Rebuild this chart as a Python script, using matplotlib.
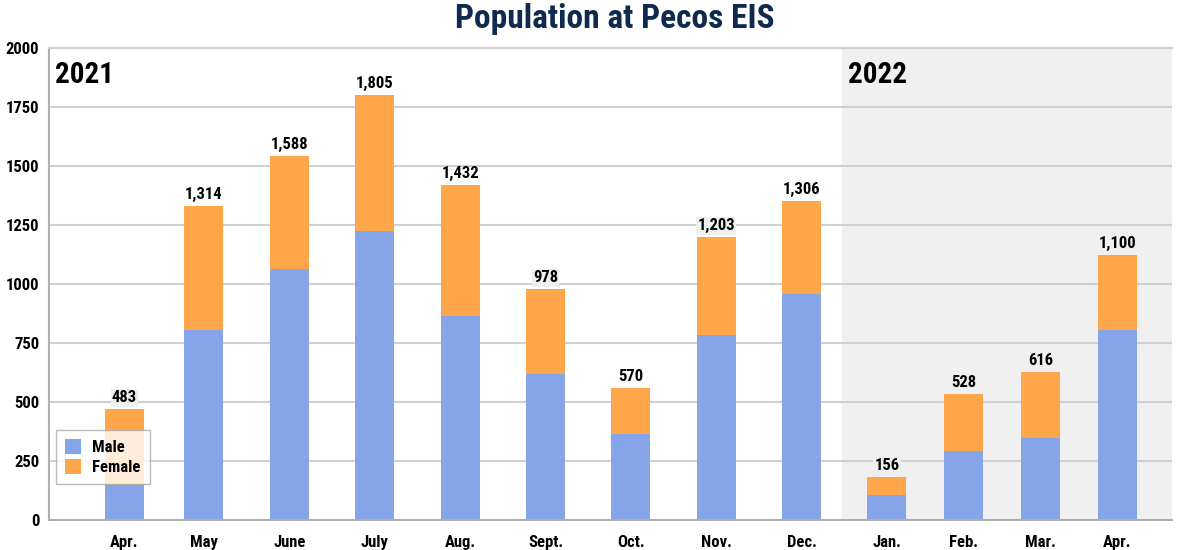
import matplotlib
matplotlib.use("Agg")
import matplotlib.pyplot as plt
from matplotlib import font_manager

months = ["Apr.", "May", "June", "July", "Aug.", "Sept.", "Oct.", "Nov.", "Dec.",
          "Jan.", "Feb.", "Mar.", "Apr."]
male = [150, 805, 1064, 1225, 864, 619, 364, 784, 958, 106, 292, 347, 805]
female = [320, 526, 478, 576, 555, 360, 195, 415, 394, 76, 242, 280, 318]
totals = ["483", "1,314", "1,588", "1,805", "1,432", "978", "570", "1,203", "1,306",
          "156", "528", "616", "1,100"]
years = ["2021", "2022"]
n_2021 = 9

# pick a condensed font if one is installed
names = {f.name for f in font_manager.fontManager.ttflist}
font = "DejaVu Sans"
for cand in ["Roboto Condensed", "Liberation Sans Narrow", "Open Sans Condensed"]:
    if cand in names:
        font = cand
        break
stretch = "normal" if font != "DejaVu Sans" else "condensed"
plt.rcParams["font.family"] = [font, "DejaVu Sans"]
plt.rcParams["font.stretch"] = stretch
plt.rcParams["font.weight"] = "bold"

fig = plt.figure(figsize=(11.78, 5.5), dpi=100)
ax = fig.add_axes([0.0416, 0.0545, 0.9534, 0.8582])

# 2021 bars a bit wider apart than the 2022 ones
x = [i + 0.07 * (i == 0) for i in range(n_2021)]
x += [n_2021 + 0.9 * j for j in range(len(months) - n_2021)]
ax.set_xlim(-0.815, 12.34)
ax.set_ylim(0, 2000)

# shaded 2022 region
ax.axvspan(n_2021 - 0.53, 12.34, color="#f0f0f0", zorder=0, lw=0)

ax.set_yticks(range(0, 2001, 250))
ax.grid(axis="y", color="#d0d0d0", lw=1.5, zorder=1)
ax.set_axisbelow(True)

ax.bar(x, male, width=0.457, color="#86a4ea", label="Male", zorder=2)
ax.bar(x, female, width=0.457, bottom=male, color="#ffa54a", label="Female", zorder=2)

for i, lab in enumerate(totals):
    top = male[i] + female[i]
    near = any(0 < t - top < 70 for t in range(250, 2001, 250))
    bbox = dict(facecolor="#efefef", edgecolor="none", pad=1) if near else None
    ax.text(x[i], top + 16, lab, ha="center", va="bottom", fontsize=12,
            fontweight="bold", bbox=bbox, zorder=3)

ax.text(-0.745, 1885, years[0], ha="left", va="center", fontsize=21, fontweight="bold")
ax.text(n_2021 - 0.46, 1885, years[1], ha="left", va="center", fontsize=21,
        fontweight="bold")

ax.set_xticks(x)
ax.set_xticklabels(months, fontsize=12, fontweight="bold")
ax.tick_params(axis="x", length=0, pad=11)
ax.tick_params(axis="y", length=0, pad=7, labelsize=12)
for t in ax.get_yticklabels():
    t.set_fontweight("bold")

ax.spines["right"].set_visible(False)
for s in ["left", "bottom", "top"]:
    ax.spines[s].set_color("#b0b0b0")
    ax.spines[s].set_linewidth(1.5)
ax.spines["top"].set_color("#d0d0d0")

leg = ax.legend(loc="lower left", bbox_to_anchor=(-0.001, 0.058), fontsize=12,
                frameon=True, fancybox=False, handlelength=0.95, handleheight=0.95,
                handletextpad=0.65, borderpad=0.55, labelspacing=0.25)
leg.get_frame().set_edgecolor("#aaaaaa")
leg.get_frame().set_alpha(0.8)
for t in leg.get_texts():
    t.set_fontweight("bold")

fig.suptitle("Population at Pecos EIS", x=0.522, y=0.995, va="top", fontsize=24,
             fontweight="bold", color="#0f2a4e")

fig.savefig("out.png", dpi=100)
